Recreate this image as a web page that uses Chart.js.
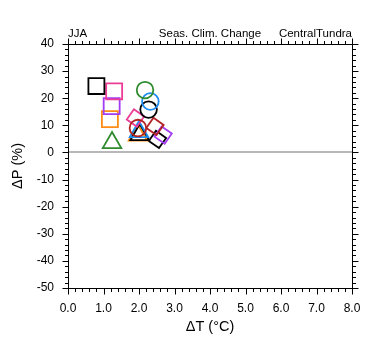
<!DOCTYPE html>
<html>
<head>
<meta charset="utf-8">
<script src="https://cdn.jsdelivr.net/npm/chart.js@4/dist/chart.umd.min.js"></script>
<style>
html,body{margin:0;padding:0;background:#fff;}
#wrap{width:380px;height:355px;position:relative;}
</style>
</head>
<body>
<div id="wrap"><canvas id="c" width="380" height="355"></canvas></div>
<script>
// Data: temperature change (°C) and precipitation change (%)
const dT = [0.80, 1.30, 1.23, 1.18, 1.24, 2.17, 2.32, 2.27, 1.97, 1.90, 2.00, 2.02, 1.97, 2.45, 2.68, 2.52];
const dP = [24.5, 22.5, 17.1, 12.3, 3.6, 23.0, 18.8, 15.8, 9.0, 12.7, 7.6, 6.5, 6.3, 9.6, 6.4, 4.8];
const xTickValues = [0, 1, 2, 3, 4, 5, 6, 7, 8];
const yTickValues = [-50, -40, -30, -20, -10, 0, 10, 20, 30, 40];
const titleLeft = "JJA";
const titleCenter = "Seas. Clim. Change";
const titleRight = "CentralTundra";

// marker styles (kept separate from the values)
const markerColor = ['#000000','#ec3c96','#a23cf5','#ff8c14','#2e8b2e','#2e8b2e','#1e8cf0','#000000','#b22222','#ec3c96','#1e8cf0','#000000','#ff8c14','#b22222','#a23cf5','#000000'];
const markerShape = ['rect','rect','rect','rect','triangle','circle','circle','circle','circle','diamond','triangle','triangle','triangle','diamond','diamond','diamond'];

function radiusFor(s){ return s==='rect'?11.3 : s==='circle'?8.3 : s==='triangle'?10.7 : 8.8; }

const datasets = dT.map((x,i)=>{
  const s = markerShape[i];
  return {
    data:[{x:x, y:dP[i]}],
    pointStyle: s==='diamond' ? 'rect' : s,
    rotation: s==='diamond' ? 35 : 0,
    pointRadius: radiusFor(s),
    pointHoverRadius: radiusFor(s),
    pointBorderWidth: 1.8,
    pointBorderColor: markerColor[i],
    pointBackgroundColor: 'rgba(0,0,0,0)',
    borderColor: markerColor[i],
    backgroundColor: 'rgba(0,0,0,0)',
    showLine:false
  };
});

const framePlugin = {
  id:'frame',
  beforeDatasetsDraw(chart){
    const {ctx, chartArea:a, scales:{x,y}} = chart;
    ctx.save();
    const y0 = Math.round(y.getPixelForValue(0));
    ctx.strokeStyle='#a0a0a0'; ctx.lineWidth=1.6;
    ctx.beginPath(); ctx.moveTo(a.left,y0); ctx.lineTo(a.right,y0); ctx.stroke();
    ctx.restore();
  },
  afterDraw(chart){
    const {ctx, chartArea:a, scales:{x,y}} = chart;
    ctx.save();
    ctx.strokeStyle='#000'; ctx.lineWidth=1;
    const L=Math.round(a.left)+0.5, R=Math.round(a.right)+0.5, T=Math.round(a.top)+0.5, B=Math.round(a.bottom)+0.5;
    ctx.strokeRect(L,T,R-L,B-T);
    ctx.beginPath();
    for(let k=0;k<=40;k++){
      const v=k*0.2; const px=Math.round(x.getPixelForValue(v))+0.5;
      const len = (k%5===0)?6:3.5;
      ctx.moveTo(px,B); ctx.lineTo(px,B+len);
      ctx.moveTo(px,T); ctx.lineTo(px,T-len);
    }
    for(let k=0;k<=45;k++){
      const v=-50+k*2; const py=Math.round(y.getPixelForValue(v))+0.5;
      const len = (k%5===0)?6:3.5;
      ctx.moveTo(L,py); ctx.lineTo(L-len,py);
      ctx.moveTo(R,py); ctx.lineTo(R+len,py);
    }
    ctx.stroke();
    ctx.fillStyle='#000';
    ctx.font='11.5px "Liberation Sans", Arial, sans-serif';
    ctx.textBaseline='alphabetic';
    const ty=36.5;
    ctx.textAlign='left'; ctx.fillText(titleLeft, a.left, ty);
    ctx.textAlign='center'; ctx.fillText(titleCenter, (a.left+a.right)/2, ty);
    ctx.textAlign='right'; ctx.fillText(titleRight, a.right, ty);
    ctx.restore();
  }
};

new Chart(document.getElementById('c'), {
  type:'scatter',
  data:{datasets},
  options:{
    responsive:false,
    animation:false,
    events:[],
    layout:{padding:{top:44,right:28,left:0,bottom:0}},
    plugins:{legend:{display:false},tooltip:{enabled:false},title:{display:false}},
    scales:{
      x:{
        type:'linear', min:0, max:8,
        afterBuildTicks(s){ s.ticks = xTickValues.map(v=>({value:v})); },
        afterFit(s){ s.height=67; },
        grid:{display:false, drawTicks:false},
        border:{display:false},
        ticks:{padding:13, color:'#000', font:{family:'"Liberation Sans", Arial, sans-serif', size:12}, maxRotation:0,
          callback:(v)=>Number(v).toFixed(1)},
        title:{display:true, text:'\u0394T (\u00B0C)', color:'#000', font:{family:'"Liberation Sans", Arial, sans-serif', size:14.5}, padding:{top:0,bottom:19}}
      },
      y:{
        type:'linear', min:-50, max:40,
        afterBuildTicks(s){ s.ticks = yTickValues.map(v=>({value:v})); },
        afterFit(s){ s.width=68; },
        grid:{display:false, drawTicks:false},
        border:{display:false},
        ticks:{padding:14, color:'#000', font:{family:'"Liberation Sans", Arial, sans-serif', size:12},
          callback:(v)=>String(v)},
        title:{display:true, text:'\u0394P (%)', color:'#000', font:{family:'"Liberation Sans", Arial, sans-serif', size:14.5}, padding:{top:9,bottom:0}}
      }
    }
  },
  plugins:[framePlugin]
});
</script>
</body>
</html>
